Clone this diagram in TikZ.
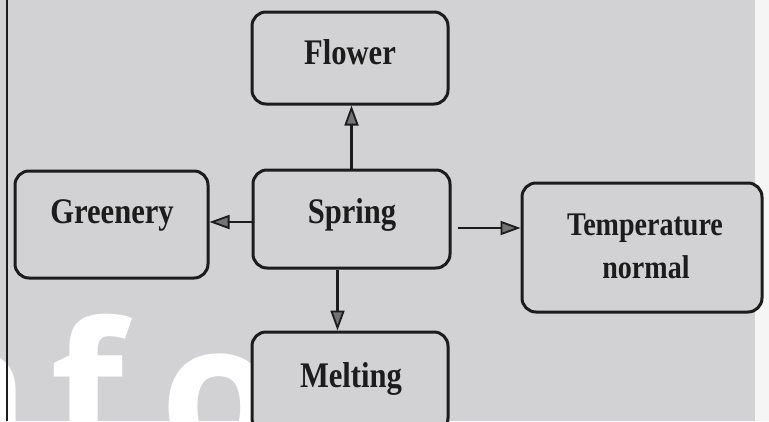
\documentclass[tikz,border=0pt]{standalone}
\usepackage{fontspec}
\setmainfont{Liberation Serif}
\newfontfamily\lblfont[FakeStretch=0.85]{Liberation Serif}
\newfontfamily\wmfont{Open Sans}
\usetikzlibrary{arrows.meta,calc}
\definecolor{bg}{RGB}{210,210,212}
\definecolor{ink}{RGB}{28,28,28}
\begin{document}
\begin{tikzpicture}[x=1pt,y=-1pt,
  box/.style={draw=ink, fill=bg, line width=3pt, rounded corners=14pt, inner sep=0pt},
  lbl/.style={font=\lblfont\bfseries\fontsize{36}{40}\selectfont, text=ink, anchor=base, inner sep=0pt},
  lbls/.style={lbl, font=\lblfont\bfseries\fontsize{33}{36}\selectfont},
  arr/.style={draw=ink, line width=2.8pt, -{Triangle[length=20pt,width=14pt,fill=black!55,line width=1.8pt]}},
  wm/.style={font=\wmfont\bfseries\fontsize{190}{200}\selectfont, text=white, anchor=base west, inner sep=0pt}]
\useasboundingbox (0,0) rectangle (769,421);
\begin{scope}
\clip (0,0) rectangle (769,421);
\fill[bg] (0,0) rectangle (755,421);
\fill[white!96!black] (755,0) rectangle (769,421);
% watermark
\node[wm] (wmn) at (-95,459) {n};
\node[wm] (wmf) at (50,459) {f};
\node[wm] (wmo) at (160,459) {o};
% left rule
\draw[ink, line width=2.2pt] (7,0) -- (7,421);
% boxes
\node[box, minimum width=196, minimum height=92] (flower) at (350,58) {};
\node[box, minimum width=197, minimum height=98] (spring) at (351.5,219) {};
\node[box, minimum width=193, minimum height=107] (greenery) at (111.5,224.5) {};
\node[box, minimum width=240, minimum height=129] (temp) at (642,247.5) {};
\node[box, minimum width=196, minimum height=100] (melting) at (350,382) {};
% labels
\node[lbl] (tflower) at (350,64) {Flower};
\node[lbl] (tspring) at (352,223) {Spring};
\node[lbl] (tgreen) at (112,223) {Greenery};
\node[lbls] (ttemp1) at (645,235) {Temperature};
\node[lbls] (ttemp2) at (646,278) {normal};
\node[lbl] (tmelt) at (351,387) {Melting};
% connectors
\draw[arr] (spring.north) -- (spring.north |- flower.south);
\coordinate (sW) at ($(spring.west)+(0,3)$);
\draw[arr] (sW) -- (sW -| greenery.east);
\coordinate (sE) at ($(spring.east)+(6,9)$);
\draw[arr] (sE) -- (sE -| temp.west);
\coordinate (sS) at ($(spring.south)+(-14,0)$);
\draw[arr] (sS) -- (sS |- melting.north);
\end{scope}
\end{tikzpicture}
\end{document}
